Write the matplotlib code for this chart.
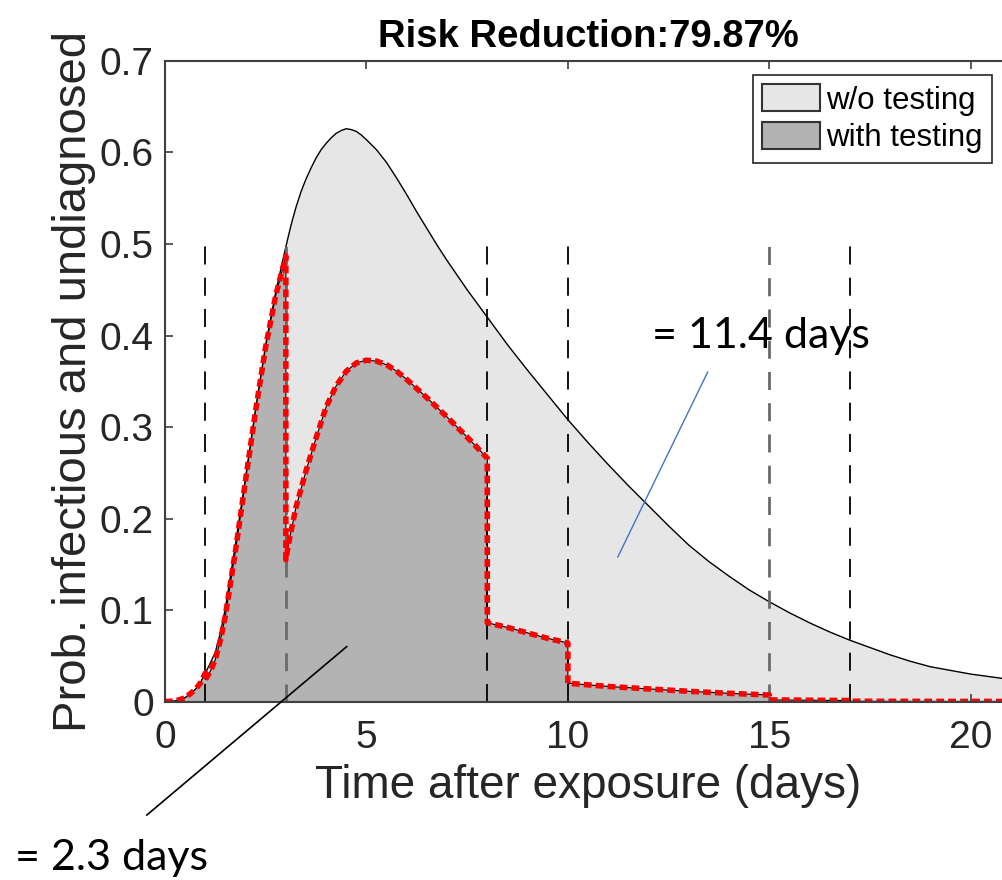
import matplotlib.pyplot as plt
import numpy as np

plt.rcParams['font.family'] = ['Liberation Sans', 'DejaVu Sans']

##data##
#probability infectious and undiagnosed, no testing
t_wo = [0, 0.25, 0.5, 0.75, 0.875, 1.0, 1.125, 1.25, 1.375, 1.5, 1.75, 2.0,
        2.25, 2.5, 2.75, 3.0, 3.125, 3.25, 3.375, 3.5, 3.625, 3.75, 3.875,
        4.0, 4.125, 4.25, 4.375, 4.5, 4.625, 4.75, 4.875, 5.0, 5.25, 5.5,
        5.75, 6.0, 6.25, 6.5, 6.75, 7.0, 7.5, 8.0, 8.5, 9.0, 9.5, 10.0, 10.5,
        11.0, 11.5, 12.0, 12.5, 13.0, 13.5, 14.0, 14.5, 15.0, 15.5, 16.0,
        16.5, 17.0, 17.5, 18.0, 18.5, 19.0, 19.5, 20.0, 20.5, 21.0]
p_wo = [0, 0.0005, 0.004, 0.013, 0.020, 0.031, 0.042, 0.054, 0.075, 0.102,
        0.172, 0.245, 0.320, 0.390, 0.448, 0.497, 0.520, 0.540, 0.557, 0.571,
        0.583, 0.594, 0.603, 0.610, 0.616, 0.621, 0.624, 0.626, 0.625, 0.623,
        0.619, 0.614, 0.603, 0.589, 0.572, 0.554, 0.535, 0.517, 0.499, 0.482,
        0.450, 0.420, 0.390, 0.362, 0.335, 0.308, 0.283, 0.259, 0.236, 0.214,
        0.192, 0.171, 0.153, 0.137, 0.122, 0.109, 0.097, 0.086, 0.076, 0.067,
        0.059, 0.051, 0.044, 0.038, 0.034, 0.030, 0.027, 0.024]

#with testing (repeated times are the drops after a test)
t_w = [0, 0.25, 0.5, 0.75, 0.875, 1.0, 1.0, 1.125, 1.25, 1.375, 1.5, 1.75,
       2.0, 2.25, 2.5, 2.75, 3.0, 3.0, 3.05, 3.1, 3.25, 3.5, 3.75, 4.0, 4.25,
       4.5, 4.75, 5.0, 5.25, 5.5, 5.75, 6.0, 6.25, 6.5, 7.0, 7.5, 8.0, 8.0,
       8.5, 9.0, 9.5, 10.0, 10.0, 11.0, 12.0, 13.0, 14.0, 15.0, 15.0, 16.0,
       17.0, 17.0, 19.0, 21.0]
p_w = [0, 0.0005, 0.004, 0.013, 0.020, 0.031, 0.024, 0.033, 0.046, 0.067,
       0.094, 0.165, 0.242, 0.318, 0.388, 0.444, 0.487, 0.155, 0.168, 0.180,
       0.212, 0.252, 0.288, 0.322, 0.345, 0.361, 0.370, 0.373, 0.372, 0.368,
       0.361, 0.352, 0.342, 0.332, 0.311, 0.289, 0.266, 0.086, 0.081, 0.075,
       0.069, 0.064, 0.020, 0.0165, 0.0138, 0.0112, 0.009, 0.0071, 0.0018,
       0.0014, 0.0011, 0.0003, 0.0002, 0.0001]

#test days
test_days = [1, 3, 8, 10, 15, 17]
test_colors = ['black', '#6a6a6a', 'black', 'black', '#6a6a6a', 'black']
test_widths = [1.3, 2.0, 1.3, 1.3, 2.0, 1.3]

days_wo = 11.4
days_w = 2.3
risk_reduction = 79.87

##figure##
fig = plt.figure(figsize=(10.03, 8.8), dpi=100)
ax = fig.add_axes([0.1645, 0.2028, 1.008 - 0.1645, 0.9307 - 0.2028])

ax.fill_between(t_wo, 0, p_wo, facecolor='#e6e6e6', edgecolor='none', zorder=1, label='w/o testing')
ax.plot(t_wo, p_wo, color='black', lw=1.0, zorder=2)
ax.fill_between(t_w, 0, p_w, facecolor='#b3b3b3', edgecolor='none', zorder=3, label='with testing')
ax.plot(t_w, p_w, color='black', lw=0.8, zorder=4)

#vertical dashed lines at test days
for d, c, w in zip(test_days, test_colors, test_widths):
    ax.plot([d, d], [0, 0.5], color=c, lw=w, dashes=(13 / w, 9.5 / w), zorder=5)

#red dotted line on top
ax.plot(t_w, p_w, color='red', lw=4.0, dashes=(1.4, 0.75), dash_capstyle='butt', zorder=6)

ax.set_xlim(0, 21)
ax.set_ylim(0, 0.7)
ax.set_xticks([0, 5, 10, 15, 20])
ax.set_yticks(np.arange(0, 0.71, 0.1))
ax.set_yticklabels(['0', '0.1', '0.2', '0.3', '0.4', '0.5', '0.6', '0.7'])
ax.tick_params(direction='in', length=6, width=1.2, color='#404040', labelcolor='#262626',
               labelsize=28, top=True, right=True)
ax.tick_params(axis='x', pad=13)
ax.tick_params(axis='y', pad=8)
for s in ax.spines.values():
    s.set_color('#404040')
    s.set_linewidth(1.5)
    s.set_zorder(7)

ax.set_xlabel('Time after exposure (days)', fontsize=33, color='#262626')
ax.set_ylabel('Prob. infectious and undiagnosed', fontsize=34, color='#262626')
ax.xaxis.set_label_coords(0.5, -0.097)
ax.yaxis.set_label_coords(-0.082, 0.5)
ax.set_title('Risk Reduction:%.2f%%' % risk_reduction, fontsize=27.5, fontweight='bold', pad=10)

leg = ax.legend(loc='upper right', bbox_to_anchor=(0.9775, 0.978), borderaxespad=0,
                fontsize=22.5, fancybox=False, framealpha=1, edgecolor='#262626',
                handlelength=1.85, handleheight=0.95, handletextpad=0.2, labelspacing=0.2,
                borderpad=0.3)
for h in leg.legend_handles:
    h.set_edgecolor('#333333')
    h.set_linewidth(1.5)
leg.get_frame().set_linewidth(1.2)

#annotations with leader lines
ax.plot([11.24, 13.47], [0.158, 0.360], color='#4472C4', lw=1.0, zorder=8)
ax.text(12.08, 0.386, '= %.1f days' % days_wo, fontsize=31, family='Lato', ha='left', va='baseline')
ax.plot([-0.45, 4.51], [-0.124, 0.060], color='black', lw=1.2, zorder=8, clip_on=False)
ax.text(-3.72, -0.184, '= %.1f days' % days_w, fontsize=31, family='Lato', ha='left', va='baseline')

fig.savefig('out.png', dpi=100)
